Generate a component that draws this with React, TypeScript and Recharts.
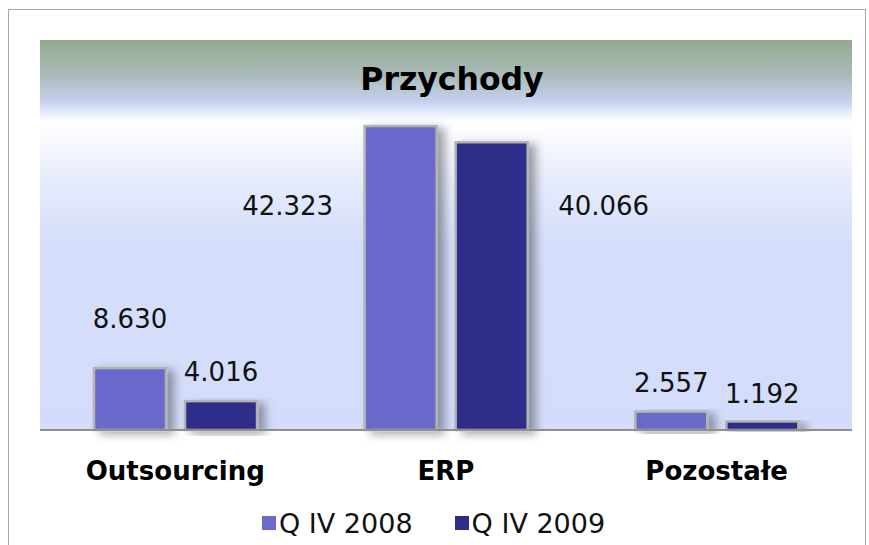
import React from 'react';
import {BarChart, Bar, XAxis, YAxis, CartesianGrid, Legend, LabelList} from 'recharts';

const categories = ['Outsourcing', 'ERP', 'Pozostałe'];
const q2008 = [8.63, 42.323, 2.557];
const q2009 = [4.016, 40.066, 1.192];
const seriesNames = ['Q IV 2008', 'Q IV 2009'];
const seriesColors = ['#6b6bcc', '#2d2d8a'];

// label placement relative to top centre of each bar (as in the original sheet)
const offs2008 = [[0, -49], [-113, 80], [0, -29]];
const offs2009 = [[0, -29], [112, 64], [0, -27]];

const data = categories.map((c, i) => ({name: c, a: q2008[i], b: q2009[i]}));

const font = '"DejaVu Sans", Verdana, sans-serif';

const fmt = (v: number) => v.toFixed(3);

const makeLabel = (offs: number[][]) => (props: any) => {
  const {x, y, width, index, value} = props;
  const o = offs[index] || [0, -20];
  return (
    <text
      x={Number(x) + Number(width) / 2 + o[0]}
      y={Number(y) + o[1]}
      textAnchor="middle"
      dominantBaseline="central"
      fontFamily={font}
      fontSize={26}
      fill="#111"
    >
      {fmt(Number(value))}
    </text>
  );
};

const BarShape = (props: any) => {
  const {x, y, width, height, fill} = props;
  if (!height || height <= 0) return null;
  return (
    <rect
      x={x}
      y={y}
      width={width}
      height={height}
      fill={fill}
      stroke="#b3b3b3"
      strokeWidth={2.5}
      filter="url(#barShadow)"
    />
  );
};

const CatTick = (props: any) => {
  const {x, y, payload} = props;
  return (
    <text
      x={x}
      y={Number(y) + 41}
      textAnchor="middle"
      dominantBaseline="central"
      fontFamily={font}
      fontWeight="bold"
      fontSize={26}
      fill="#000"
    >
      {payload.value}
    </text>
  );
};

const LegendBox = () => (
  <div style={{height: 36, display: 'flex', alignItems: 'center', paddingLeft: 262, fontFamily: font, fontSize: 27, color: '#111'}}>
    {seriesNames.map((n, i) => (
      <div key={n} style={{display: 'flex', alignItems: 'center', marginRight: 42}}>
        <span style={{width: 14, height: 14, background: seriesColors[i], marginRight: 3, display: 'inline-block'}} />
        <span>{n}</span>
      </div>
    ))}
  </div>
);

export default function App() {
  return (
    <div style={{position: 'fixed', left: 0, top: 0, width: 869, height: 545, overflow: 'hidden', background: '#fff'}}>
      <div style={{position: 'absolute', left: 8, top: 9, width: 856, height: 600, border: '1px solid #a6a6a6'}} />
      <div style={{position: 'absolute', left: 0, top: 0}}>
        <BarChart
          width={869}
          height={545}
          data={data}
          margin={{top: 40, right: 17, left: 40, bottom: 4}}
          barGap={19}
          barSize={72}
        >
          <defs>
            <linearGradient id="bgGrad" x1="0" y1="0" x2="0" y2="1">
              <stop offset="0" stopColor="#93aa90" />
              <stop offset="0.09" stopColor="#aabbb9" />
              <stop offset="0.16" stopColor="#c6d2ef" />
              <stop offset="0.185" stopColor="#e6ecfd" />
              <stop offset="0.21" stopColor="#ffffff" />
              <stop offset="0.36" stopColor="#e7ecfc" />
              <stop offset="0.52" stopColor="#d5defa" />
              <stop offset="1" stopColor="#d3dcfa" />
            </linearGradient>
            <filter id="barShadow" x="-30%" y="-10%" width="170%" height="130%">
              <feDropShadow dx="7" dy="3" stdDeviation="5" floodColor="#000" floodOpacity="0.35" />
            </filter>
          </defs>
          <CartesianGrid horizontal={false} vertical={false} fill="url(#bgGrad)" />
          <XAxis
            dataKey="name"
            height={75}
            tickLine={false}
            tickSize={0}
            tickMargin={0}
            axisLine={{stroke: '#8f8f8f', strokeWidth: 2}}
            tick={<CatTick />}
            interval={0}
          />
          <YAxis hide domain={[0, 54.3]} />
          <Legend verticalAlign="bottom" content={<LegendBox />} wrapperStyle={{left: 0, width: 869}} />
          <Bar dataKey="a" name={seriesNames[0]} fill={seriesColors[0]} shape={<BarShape />} isAnimationActive={false}>
            <LabelList dataKey="a" content={makeLabel(offs2008)} />
          </Bar>
          <Bar dataKey="b" name={seriesNames[1]} fill={seriesColors[1]} shape={<BarShape />} isAnimationActive={false}>
            <LabelList dataKey="b" content={makeLabel(offs2009)} />
          </Bar>
          <text x={452} y={79} textAnchor="middle" dominantBaseline="central" fontFamily={font} fontWeight="bold" fontSize={31.5} fill="#000">
            Przychody
          </text>
        </BarChart>
      </div>
    </div>
  );
}
